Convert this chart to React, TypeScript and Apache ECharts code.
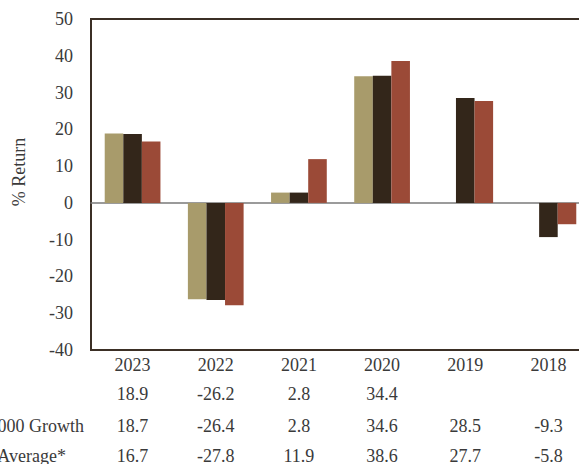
import React, { useEffect, useRef } from "react";
import * as echarts from "echarts";

const years = ["2023", "2022", "2021", "2020", "2019", "2018"];
const fund: (number | null)[] = [18.9, -26.2, 2.8, 34.4, null, null];
const russell: (number | null)[] = [18.7, -26.4, 2.8, 34.6, 28.5, -9.3];
const categoryAvg: (number | null)[] = [16.7, -27.8, 11.9, 38.6, 27.7, -5.8];
const rowLabels = ["", "Russell 1000 Growth", "Morningstar Large Growth Average*"];
const yTicks = { min: -40, max: 50, interval: 10 };

const FONT = "'Liberation Serif', 'Times New Roman', serif";
const TEXT = "#3a3a3a";

const fmt = (v: number | null) => (v === null || v === undefined ? "" : v.toFixed(1));

export default function App() {
  const ref = useRef<HTMLDivElement>(null);
  useEffect(() => {
    if (!ref.current) return;
    const chart = echarts.init(ref.current, null, { renderer: "svg" });
    const labelAxis = (values: (number | null)[] | null, margin: number) => ({
      type: "category" as const,
      data: years,
      position: "bottom" as const,
      gridIndex: 0,
      axisLine: { show: false, onZero: false },
      axisTick: { show: false },
      splitLine: { show: false },
      axisLabel: {
        margin,
        fontFamily: FONT,
        fontSize: 18,
        color: TEXT,
        formatter: (v: string, i: number) => (values ? fmt(values[i]) : v),
      },
    });
    chart.setOption({
      animation: false,
      grid: {
        left: 91,
        top: 19,
        width: 499,
        height: 331,
        show: true,
        borderColor: "#3b2f25",
        borderWidth: 2,
        backgroundColor: "transparent",
      },
      xAxis: [
        {
          type: "category",
          data: years,
          axisLine: { show: true, onZero: true, lineStyle: { color: "#7a7a7a", width: 1.5 } },
          axisTick: { show: false },
          axisLabel: { show: false },
        },
        labelAxis(null, 6),
        labelAxis(fund, 35),
        labelAxis(russell, 67),
        labelAxis(categoryAvg, 97),
      ],
      yAxis: {
        type: "value",
        min: yTicks.min,
        max: yTicks.max,
        interval: yTicks.interval,
        axisLine: { show: false },
        axisTick: { show: false },
        splitLine: { show: false },
        axisLabel: { margin: 18, fontFamily: FONT, fontSize: 18, color: TEXT },
      },
      series: [
        { name: "Fund", type: "bar", data: fund, itemStyle: { color: "#a89b6b" }, barGap: "0%", barCategoryGap: "33%" },
        { name: rowLabels[1], type: "bar", data: russell, itemStyle: { color: "#33261a" }, barGap: "0%", barCategoryGap: "33%" },
        { name: rowLabels[2], type: "bar", data: categoryAvg, itemStyle: { color: "#9b4a37" }, barGap: "0%", barCategoryGap: "33%" },
      ],
      graphic: [
        {
          type: "text",
          x: 19,
          y: 172,
          rotation: Math.PI / 2,
          style: { text: "% Return", fontFamily: FONT, fontSize: 18, fill: TEXT, align: "center", verticalAlign: "middle" },
        },
        {
          type: "text",
          x: 84,
          y: 426,
          style: { text: rowLabels[1], fontFamily: FONT, fontSize: 18, fill: TEXT, align: "right", verticalAlign: "middle" },
        },
        {
          type: "text",
          x: 66,
          y: 456,
          style: { text: rowLabels[2], fontFamily: FONT, fontSize: 18, fill: TEXT, align: "right", verticalAlign: "middle" },
        },
      ],
    });
    return () => chart.dispose();
  }, []);
  return (
    <div style={{ position: "fixed", left: 0, top: 0, width: 579, height: 464, overflow: "hidden", background: "#fff" }}>
      <div ref={ref} style={{ width: 640, height: 480 }} />
    </div>
  );
}
